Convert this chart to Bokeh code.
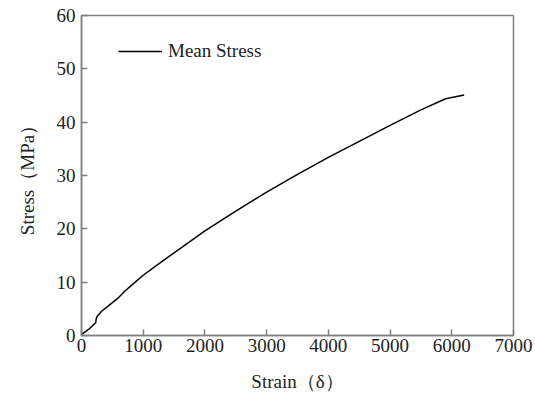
from bokeh.plotting import figure
from bokeh.models import Range1d, FixedTicker, Legend, LegendItem
from bokeh.embed import file_html
from bokeh.resources import INLINE

strain = [0, 120, 230, 240, 255, 330, 450, 590, 700, 800, 1000, 1200, 1500,
          2000, 2500, 3000, 3500, 4000, 4500, 5000, 5500, 5900, 6200]
stress = [0.2, 1.2, 2.4, 3.2, 3.6, 4.6, 5.7, 7.0, 8.3, 9.3, 11.3, 13.0, 15.5,
          19.6, 23.3, 26.9, 30.2, 33.4, 36.4, 39.4, 42.3, 44.4, 45.1]
x_ticks = [0, 1000, 2000, 3000, 4000, 5000, 6000, 7000]
y_ticks = [0, 10, 20, 30, 40, 50, 60]

FONT = "Liberation Serif"

p = figure(width=535, height=394, output_backend="svg", toolbar_location=None,
           x_range=Range1d(0, 7000), y_range=Range1d(0, 60),
           min_border_left=81, min_border_right=22, min_border_top=15, min_border_bottom=59)
p.grid.visible = False
p.outline_line_color = "#808080"
p.outline_line_width = 1.5
p.background_fill_color = "white"
p.border_fill_color = "white"

r = p.line(strain, stress, line_color="black", line_width=1.5)

for ax in (p.xaxis[0], p.yaxis[0]):
    ax.axis_line_color = "#808080"
    ax.axis_line_width = 1.5
    ax.major_tick_line_color = "#808080"
    ax.major_tick_line_width = 1.5
    ax.major_tick_in = 6
    ax.major_tick_out = 0
    ax.minor_tick_line_color = None
    ax.major_label_text_font = FONT
    ax.major_label_text_font_size = "19px"
    ax.major_label_text_color = "#222222"
    ax.axis_label_text_font = FONT
    ax.axis_label_text_font_size = "19px"
    ax.axis_label_text_font_style = "normal"
    ax.axis_label_text_color = "#222222"

p.xaxis[0].ticker = FixedTicker(ticks=x_ticks)
p.yaxis[0].ticker = FixedTicker(ticks=y_ticks)
p.xaxis[0].axis_label = "Strain（δ）"
p.yaxis[0].axis_label = "Stress（MPa）"
p.xaxis[0].major_label_standoff = 3
p.yaxis[0].major_label_standoff = 6
p.xaxis[0].axis_label_standoff = 16
p.yaxis[0].axis_label_standoff = 16

legend = Legend(items=[LegendItem(label="Mean Stress", renderers=[r])],
                location=(37, 273), padding=0, margin=0, spacing=0,
                glyph_width=44, glyph_height=20, label_height=20,
                label_standoff=6, border_line_color=None,
                background_fill_alpha=0,
                label_text_font=FONT, label_text_font_size="19px",
                label_text_color="#222222")
p.add_layout(legend, "center")

open("out.html", "w").write(file_html(p, INLINE))
